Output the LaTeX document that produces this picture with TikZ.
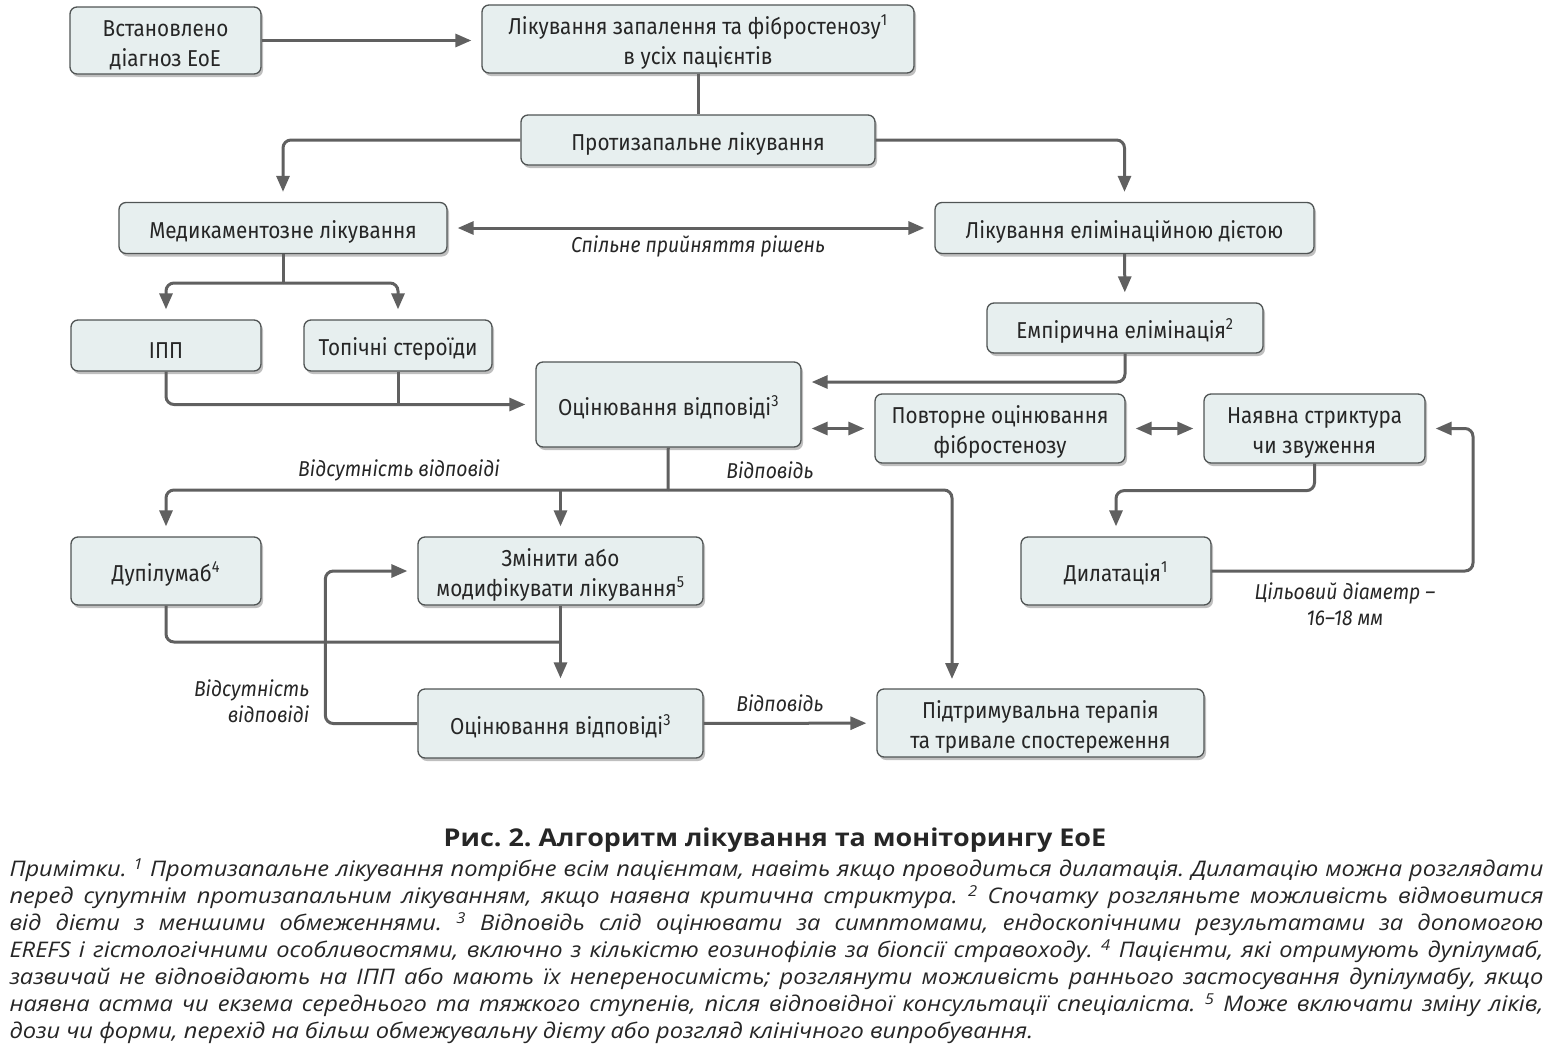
\documentclass[tikz,border=0pt]{standalone}
\usepackage{fontspec}
\setmainfont{Open Sans}
\newfontfamily\boxfont[FakeStretch=0.9]{Fira Sans}
\newfontfamily\capfont[FakeStretch=1.1]{Open Sans}
\usetikzlibrary{arrows.meta,shadows}
\definecolor{boxfill}{RGB}{231,239,239}
\definecolor{boxline}{RGB}{80,84,84}
\definecolor{arrowcol}{RGB}{96,96,96}
\definecolor{textcol}{RGB}{38,38,38}
\newcommand\hi{\rule{0pt}{25pt}}
\frenchspacing

\begin{document}
\begin{tikzpicture}[x=1pt,y=-1pt,>={Triangle[length=16pt,width=13pt]},line width=3pt,
    stage/.style={draw=boxline,fill=boxfill,rounded corners=7pt,line width=1.3pt,
                  align=center,inner sep=0pt,text=textcol,
                  font=\boxfont\fontsize{23}{30}\selectfont,
                  execute at begin node={\hi},
                  drop shadow={shadow xshift=2pt,shadow yshift=-3pt,opacity=0.25,fill=black}},
    flow/.style={->,draw=arrowcol,shorten >=10pt,rounded corners=8pt},
    link/.style={-,draw=arrowcol,rounded corners=8pt},
    lbl/.style={font=\boxfont\itshape\fontsize{21.5}{26}\selectfont,text=textcol,align=center}]
\useasboundingbox (0,0) rectangle (1550,1052);
%%%%% boxes
\node[stage,minimum width=191pt,minimum height=67pt] (diag) at (165.5,40.5) {\hi Встановлено\\діагноз EoE};
\node[stage,minimum width=432pt,minimum height=68pt] (treat) at (698,39) {\hi Лікування запалення та фібростенозу\textsuperscript{1}\\в усіх пацієнтів};
\node[stage,minimum width=354pt,minimum height=50pt] (anti) at (698,140) {Протизапальне лікування};
\node[stage,minimum width=328pt,minimum height=51pt] (med) at (283,228) {Медикаментозне лікування};
\node[stage,minimum width=379pt,minimum height=51pt] (diet) at (1124.5,228) {Лікування елімінаційною дієтою};
\node[stage,minimum width=190pt,minimum height=51pt] (ppi) at (166,345.5) {ІПП};
\node[stage,minimum width=188pt,minimum height=51pt] (ster) at (398,345.5) {Топічні стероїди};
\node[stage,minimum width=276pt,minimum height=50pt] (emp) at (1125,328) {Емпірична елімінація\textsuperscript{2}};
\node[stage,minimum width=265pt,minimum height=85pt] (eval1) at (668.5,404.5) {Оцінювання відповіді\textsuperscript{3}};
\node[stage,minimum width=250pt,minimum height=69pt] (refib) at (1000,428.5) {\hi Повторне оцінювання\\фібростенозу};
\node[stage,minimum width=221pt,minimum height=69pt] (strict) at (1314.5,428.5) {\hi Наявна стриктура\\чи звуження};
\node[stage,minimum width=190pt,minimum height=68pt] (dupi) at (166,571) {Дупілумаб\textsuperscript{4}};
\node[stage,minimum width=285pt,minimum height=68pt] (change) at (560.5,571) {\hi Змінити або\\модифікувати лікування\textsuperscript{5}};
\node[stage,minimum width=190pt,minimum height=68pt] (dil) at (1116,571) {Дилатація\textsuperscript{1}};
\node[stage,minimum width=285pt,minimum height=69pt] (eval2) at (560.5,723.5) {Оцінювання відповіді\textsuperscript{3}};
\node[stage,minimum width=327pt,minimum height=68pt] (maint) at (1040.5,723) {\hi Підтримувальна терапія\\та тривале спостереження};
%%%%% turning points
\coordinate (medsplit) at (283,283);
\coordinate (e1split) at (668,490);
\coordinate (maintin) at (952,689);
\coordinate (dilturn) at (1473,571);
%%%%% connectors
\draw[flow] (diag.east) -- (diag.east -| treat.west);
\draw[link] (treat) -- (anti);
\draw[flow] (anti.west) -| (med.north);
\draw[flow] (anti.east) -| (diet.north);
\draw[flow,<->,shorten <=10pt] (med) -- (diet);
\draw[flow] (diet) -- (emp);
\draw[link] (med) -- (medsplit);
\draw[flow] (medsplit) -| (ppi.north);
\draw[flow] (medsplit) -| (ster.north);
\draw[flow] (ppi.south) |- (eval1.west);
\draw[link] (ster.south) -- (ster.south |- eval1.west);
\draw[flow] (emp.south) |- (eval1.east |- 0,382);
\draw[flow,<->,shorten <=10pt] (eval1.east |- refib.west) -- (refib.west);
\draw[flow,<->,shorten <=10pt] (refib) -- (strict);
\draw[flow] (strict.south) -- ++(0,27) -| (dil.north);
\draw[flow] (dil.east) -- (dilturn) |- (strict.east);
\draw[link] (eval1) -- (e1split);
\draw[flow] (e1split) -| (dupi.north);
\draw[flow] (e1split) -| (maintin);
\draw[flow] (change.north |- e1split) -- (change.north);
\draw[link] (dupi.south) |- (change.south |- 0,642);
\draw[flow] (change) -- (eval2);
\draw[flow] (eval2.west) -- ++(-92,0) |- (change.west);
\draw[flow] (eval2) -- (maint);
%%%%% labels
\node[lbl] (shared) at (698,246) {Спільне прийняття рішень};
\node[lbl] (nores1) at (399,470) {Відсутність відповіді};
\node[lbl] (res1) at (770,470) {Відповідь};
\node[lbl,align=right,anchor=east] (nores2) at (314,701) {Відсутність\\відповіді};
\node[lbl] (res2) at (780,703) {Відповідь};
\node[lbl] (target) at (1345,604) {Цільовий діаметр –\\16–18 мм};
%%%%% caption
\node[font=\capfont\bfseries\fontsize{24.5}{28}\selectfont,text=textcol] (title) at (775,840) {Рис. 2. Алгоритм лікування та моніторингу EoE};
\node[anchor=north west,inner sep=0pt,text width=1534pt,align=justify,text=textcol,
      font=\capfont\itshape\fontsize{21.5}{27}\selectfont] (notes) at (8,857)
 {Примітки. \textsuperscript{1} Протизапальне лікування потрібне всім пацієнтам, навіть якщо проводиться дилатація. Дилатацію можна розглядати\linebreak
 перед супутнім протизапальним лікуванням, якщо наявна критична стриктура. \textsuperscript{2} Спочатку розгляньте можливість відмовитися\linebreak
 від дієти з меншими обмеженнями. \textsuperscript{3} Відповідь слід оцінювати за симптомами, ендоскопічними результатами за допомогою\linebreak
 EREFS і гістологічними особливостями, включно з кількістю еозинофілів за біопсії стравоходу. \textsuperscript{4} Пацієнти, які отримують дупілумаб,\linebreak
 зазвичай не відповідають на ІПП або мають їх непереносимість; розглянути можливість раннього застосування дупілумабу, якщо\linebreak
 наявна астма чи екзема середнього та тяжкого ступенів, після відповідної консультації спеціаліста. \textsuperscript{5} Може включати зміну ліків,\linebreak
 дози чи форми, перехід на більш обмежувальну дієту або розгляд клінічного випробування.};
\end{tikzpicture}
\end{document}
